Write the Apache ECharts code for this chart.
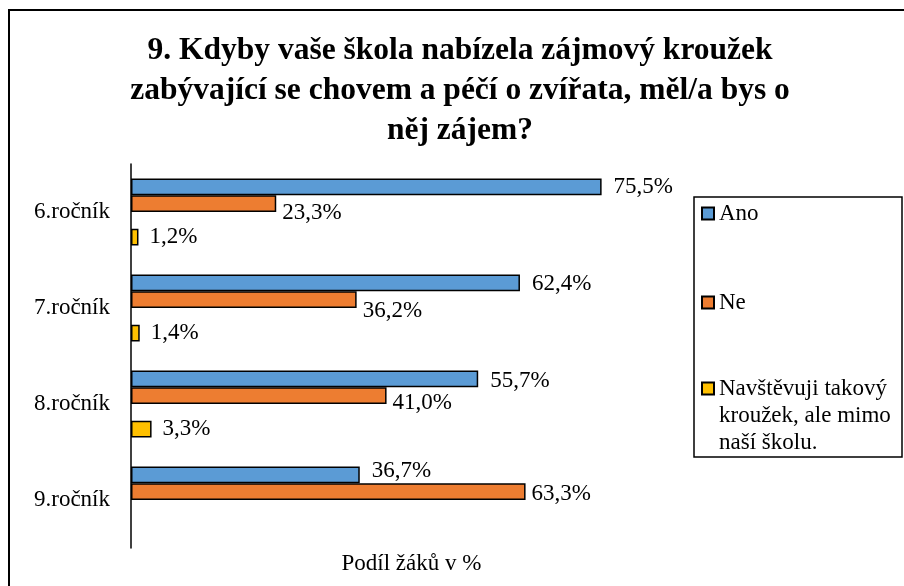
<!DOCTYPE html>
<html>
<head>
<meta charset="utf-8">
<script src="https://cdn.jsdelivr.net/npm/echarts@6/dist/echarts.min.js"></script>
<style>
  html, body { margin: 0; padding: 0; background: #fff; }
  #chart { width: 904px; height: 586px; }
</style>
</head>
<body>
<div id="chart"></div>
<script>
// data
var categories = ['6.ročník', '7.ročník', '8.ročník', '9.ročník'];
var ano = [75.5, 62.4, 55.7, 36.7];
var ne = [23.3, 36.2, 41.0, 63.3];
var navstevuji = [1.2, 1.4, 3.3, null];
var seriesNames = ['Ano', 'Ne', 'Navštěvuji takový\nkroužek, ale mimo\nnaší školu.'];

// label nudges (vertical) as the labels sit in the original
var anoShift = [0, 1, 2, -4];
var neShift = [9, 11, 7, 2];

var font = 'Liberation Serif';

function pct(p) {
  return p.value.toFixed(1).replace('.', ',') + '%';
}

function withShift(vals, shifts) {
  return vals.map(function (v, i) {
    return { value: v, label: { offset: [0, shifts ? shifts[i] : 0] } };
  });
}

function barSeries(name, vals, color, shifts, dist) {
  return {
    name: name,
    type: 'bar',
    data: withShift(vals, shifts),
    itemStyle: { color: color, borderColor: '#000', borderWidth: 1.5 },
    label: {
      show: true,
      position: 'right',
      distance: dist,
      formatter: pct,
      fontFamily: font,
      fontSize: 23,
      color: '#000'
    }
  };
}

var myChart = echarts.init(document.getElementById('chart'));

var legendText = { fontFamily: font, fontSize: 23, color: '#000', lineHeight: 27 };

option = {
  animation: false,
  backgroundColor: '#fff',
  title: {
    text: '9. Kdyby vaše škola nabízela zájmový kroužek\nzabývající se chovem a péčí o zvířata, měl/a bys o\nněj zájem?',
    left: 455,
    top: 26,
    textAlign: 'center',
    textStyle: { fontFamily: font, fontWeight: 'bold', fontSize: 31.5, lineHeight: 40, color: '#000' }
  },
  graphic: [
    { type: 'rect', shape: { x: 9, y: 10, width: 920, height: 600 }, style: { fill: null, stroke: '#000', lineWidth: 2 } },
    { type: 'rect', shape: { x: 694, y: 197, width: 208, height: 260 }, style: { fill: null, stroke: '#000', lineWidth: 1.5 } }
  ],
  legend: [
    { data: [seriesNames[0]], icon: 'rect', left: 701, top: 200, padding: 0, itemWidth: 12, itemHeight: 12, textStyle: legendText, selectedMode: false },
    { data: [seriesNames[1]], icon: 'rect', left: 701, top: 289, padding: 0, itemWidth: 12, itemHeight: 12, textStyle: legendText, selectedMode: false },
    // two leading empty lines keep the icon beside the first line of the wrapped text
    { data: [seriesNames[2]], icon: 'rect', left: 701, top: 321, padding: 0, itemWidth: 12, itemHeight: 12, textStyle: legendText, selectedMode: false,
      formatter: function (name) { return '\n\n' + name; } }
  ],
  grid: { left: 131, top: 164, width: 561, height: 384, containLabel: false },
  xAxis: {
    type: 'value',
    min: 0,
    max: 90,
    axisLine: { show: false },
    axisTick: { show: false },
    axisLabel: { show: false },
    splitLine: { show: false },
    name: 'Podíl žáků v %',
    nameLocation: 'middle',
    nameGap: 4,
    nameTextStyle: { fontFamily: font, fontSize: 23, color: '#000' }
  },
  yAxis: {
    type: 'category',
    data: categories,
    inverse: true,
    axisLine: { show: true, lineStyle: { color: '#000', width: 1.5 } },
    axisTick: { show: false },
    axisLabel: { margin: 21, fontFamily: font, fontSize: 23, color: '#000' }
  },
  series: [
    Object.assign(barSeries(seriesNames[0], ano, '#5B9BD5', anoShift, 12), { barGap: '0%', barCategoryGap: '30%' }),
    barSeries(seriesNames[1], ne, '#ED7D31', neShift, 6),
    // empty slot: the original leaves a gap between the Ne and the third bar
    { name: 'gap', type: 'bar', data: [null, null, null, null], silent: true },
    Object.assign(barSeries(seriesNames[2], navstevuji, '#FFC000', null, 11), { barGap: '0%', barCategoryGap: '30%' })
  ]
};

myChart.setOption(option);
</script>
</body>
</html>
